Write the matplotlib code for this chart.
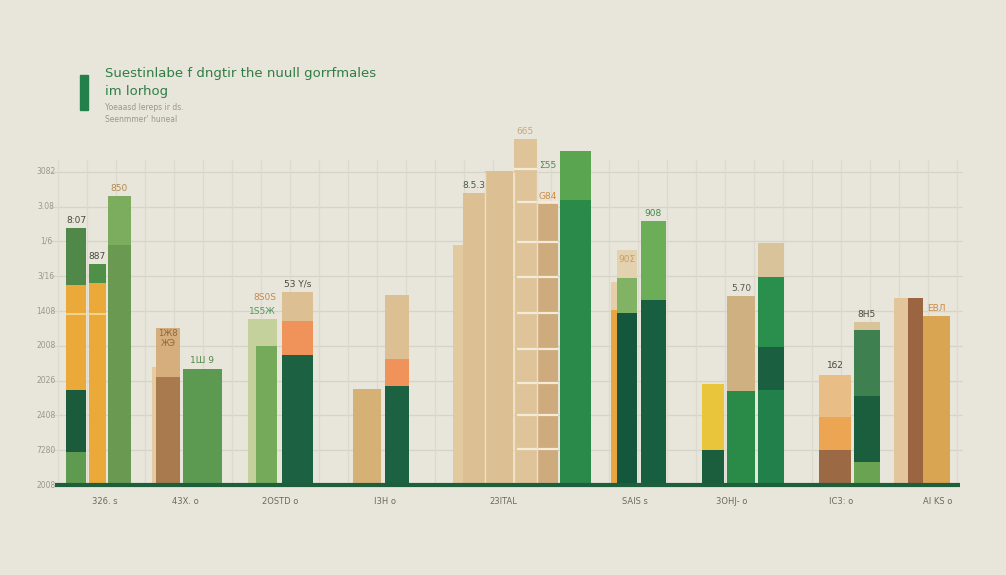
import matplotlib.pyplot as plt
from matplotlib.patches import Rectangle

# ---- data ----
categories = ["326. s", "43X. o", "2OSTD o", "I3H o", "23ITAL",
              "SAIS s", "3OHJ- o", "IC3: o", "AI KS o"]
ytick_labels = ["2008", "7280", "2408", "2026", "2008",
                "1408", "3/16", "1/6", "3.08", "3082"]

# stacked segments per bar (bottom -> top) and their colours
bar_segments = [
    [0.95, 1.78, 3.02, 1.64],        # A
    [5.80, 0.55],                    # B
    [6.89, 1.41],                    # C
    [3.39],                          # D
    [3.10, 1.41],                    # E
    [3.33],                          # F
    [4.77],                          # G
    [4.00],                          # G inner
    [3.74, 0.98, 0.83],              # H
    [2.76],                          # I
    [2.84, 0.78, 1.84],              # J
    [6.90],                          # K1
    [8.39],                          # K2
    [9.02],                          # L
    [9.94],                          # M
    [8.07],                          # N
    [8.19, 1.41],                    # O
    [5.03, 0.80],                    # P
    [4.94, 1.00, 0.80],              # Q
    [5.32, 2.27],                    # R
    [1.00, 1.90],                    # S
    [2.70, 2.73],                    # T
    [2.73, 1.24, 2.01, 0.98],        # U
    [1.00, 0.95, 1.21],              # V
    [0.66, 1.90, 1.89, 0.23],        # W
    [5.37],                          # X
    [5.37],                          # Y
    [4.86],                          # Z
]
bar_colors = [
    ["#5e9a50", "#1c5a3c", "#eaa938", "#4f8848"],
    ["#eaa938", "#4f9048"],
    ["#6a9a52", "#7cad5e"],
    ["#e6cba2"],
    ["#a87a4e", "#d6ad7c"],
    ["#5c9a52"],
    ["#c4d19c"],
    ["#74aa5a"],
    ["#1b6142", "#f0935a", "#dcbf92"],
    ["#d6b176"],
    ["#1b6142", "#f0935a", "#dcbf92"],
    ["#e2c9a0"],
    ["#dcbf92"],
    ["#dcbf92"],
    ["#dfc49a"],
    ["#cdab7c"],
    ["#2a8a4a", "#5aa650"],
    ["#e9a640", "#e5cfa8"],
    ["#14573c", "#82b264", "#e3d2b0"],
    ["#175f40", "#6cad58"],
    ["#1b5e3e", "#e9c53c"],
    ["#2a8a48", "#cfb080"],
    ["#22804a", "#1a6040", "#2a8e4c", "#d8c39a"],
    ["#9b6a45", "#eba553", "#e9be86"],
    ["#6aa452", "#1a5e3e", "#3e8050", "#d8c39a"],
    ["#e3c59c"],
    ["#9a6540"],
    ["#daa552"],
]

# value labels: bar index, text, colour, lift above bar top
value_labels = [
    (0, "8:07", "#4a4a40", 0.22), (1, "887", "#4a4a40", 0.22),
    (2, "850", "#b08a50", 0.22), (5, "1Ш 9", "#4f8a48", 0.25),
    (8, "53 Y/s", "#4a4a40", 0.22), (12, "8.5.3", "#4a5a48", 0.22),
    (14, "665", "#c9a878", 0.22), (15, "G84", "#d08a40", 0.22),
    (18, "90Ʃ", "#c9a060", -0.25), (19, "908", "#3f8a50", 0.22),
    (21, "5.70", "#5a5a50", 0.22), (23, "1б2", "#4a4a40", 0.28),
    (24, "8H5", "#4a4a40", 0.22), (27, "ЕВЛ", "#d08a40", 0.22),
]

# ---- layout (pixels of the 1006x575 canvas) ----
bar_left = [66, 89, 108, 152, 156, 183, 248, 256, 282, 353, 385,
            453, 463, 485, 514, 537, 560, 611, 617, 641,
            702, 727, 758, 819, 854, 894, 908, 923]
bar_width = [20, 17, 23, 10, 24, 39, 29, 21, 31, 28, 24,
             10, 22, 28, 23, 21, 31, 6, 20, 25,
             22, 28, 26, 32, 26, 14, 15, 27]
cat_x = [105, 185, 280, 385, 503, 635, 732, 841, 938]
W, H = 1006, 575
BASE = 485
UNIT = 34.8

fig = plt.figure(figsize=(W / 100, H / 100), dpi=100)
fig.patch.set_facecolor("#e8e5db")
ax = fig.add_axes([0, 0, 1, 1])
ax.set_facecolor("#e8e5db")
ax.set_xlim(0, W)
ax.set_ylim(-(H - BASE) / UNIT, BASE / UNIT)
ax.axis("off")

# grid
for v in range(1, 10):
    ax.hlines(v, 50, 962, color="#d6d3c8", lw=0.9, zorder=0)
top = (BASE - 160) / UNIT
for gx in range(58, 965, 29):
    ax.vlines(gx, 0, top, color="#dcd9ce", lw=0.9, zorder=0)

# bars
for segs, cols, left, w in zip(bar_segments, bar_colors, bar_left, bar_width):
    bottom = 0
    for h, c in zip(segs, cols):
        ax.bar(left, h, width=w, bottom=bottom, align="edge", color=c,
               edgecolor="none", zorder=2)
        bottom += h

# light separators inside bars
ax.hlines((BASE - 314) / UNIT, 66, 106, color="#f3dca0", lw=1.2, zorder=3)
for yy in [202, 242, 277, 313, 349, 383, 415, 449]:
    ax.hlines((BASE - yy) / UNIT, 517, 558, color="#f3ead8", lw=1.6, zorder=3)
ax.hlines((BASE - 169) / UNIT, 514, 537, color="#f3ead8", lw=1.6, zorder=3)
for xx in [485, 514, 537]:
    ax.vlines(xx, 0, 9.0, color="#eadfc8", lw=1.0, zorder=3)

# value labels
for i, txt, col, lift in value_labels:
    xc = bar_left[i] + bar_width[i] / 2
    ax.text(xc, sum(bar_segments[i]) + lift, txt, ha="center", va="center",
            fontsize=6.5, color=col, zorder=4)
ax.text(548, (BASE - 166) / UNIT, "Ʃ55", ha="center", va="center",
        fontsize=6.5, color="#4f8a58")
ax.text(265, (BASE - 298) / UNIT, "8S0S", ha="center", va="center",
        fontsize=6.5, color="#c98a4a")
ax.text(262, (BASE - 311) / UNIT, "1S5Ж", ha="center", va="center",
        fontsize=6.5, color="#4f9a58")
ax.text(168, (BASE - 333) / UNIT, "1Ж8", ha="center", va="center",
        fontsize=6, color="#8a6a40")
ax.text(168, (BASE - 344) / UNIT, "ЖЭ", ha="center", va="center",
        fontsize=6, color="#8a6a40")

# baseline
ax.hlines(0, 55, 960, color="#1f5e3c", lw=3, zorder=5)

# y tick labels
for k, lab in enumerate(ytick_labels):
    ax.text(46, k, lab, ha="center", va="center", fontsize=5.5,
            color="#9a988c")

# category labels
for xc, lab in zip(cat_x, categories):
    ax.text(xc, -(502 - BASE) / UNIT, lab, ha="center", va="center",
            fontsize=6, color="#6b6a5e")

# title block
def fx(x):
    return x / W

def fy(y):
    return 1 - y / H

fig.patches.append(Rectangle((fx(80), fy(110)), 8 / W, 35 / H,
                             transform=fig.transFigure, color="#23804a"))
fig.text(fx(105), fy(73), "Suestinlabe f dngtir the nuull gorrfmales",
         fontsize=9.5, color="#2f7d45", va="center", ha="left",
         fontweight="medium")
fig.text(fx(105), fy(92), "im lorhog", fontsize=9.5, color="#2f7d45",
         va="center", ha="left", fontweight="medium")
fig.text(fx(105), fy(107), "Yoeaasd lereps ir ds.", fontsize=5.5,
         color="#9a988c", va="center", ha="left")
fig.text(fx(105), fy(120), "Seenmmer' huneal", fontsize=5.5,
         color="#9a988c", va="center", ha="left")

fig.savefig("out.png", dpi=100, facecolor=fig.get_facecolor())
